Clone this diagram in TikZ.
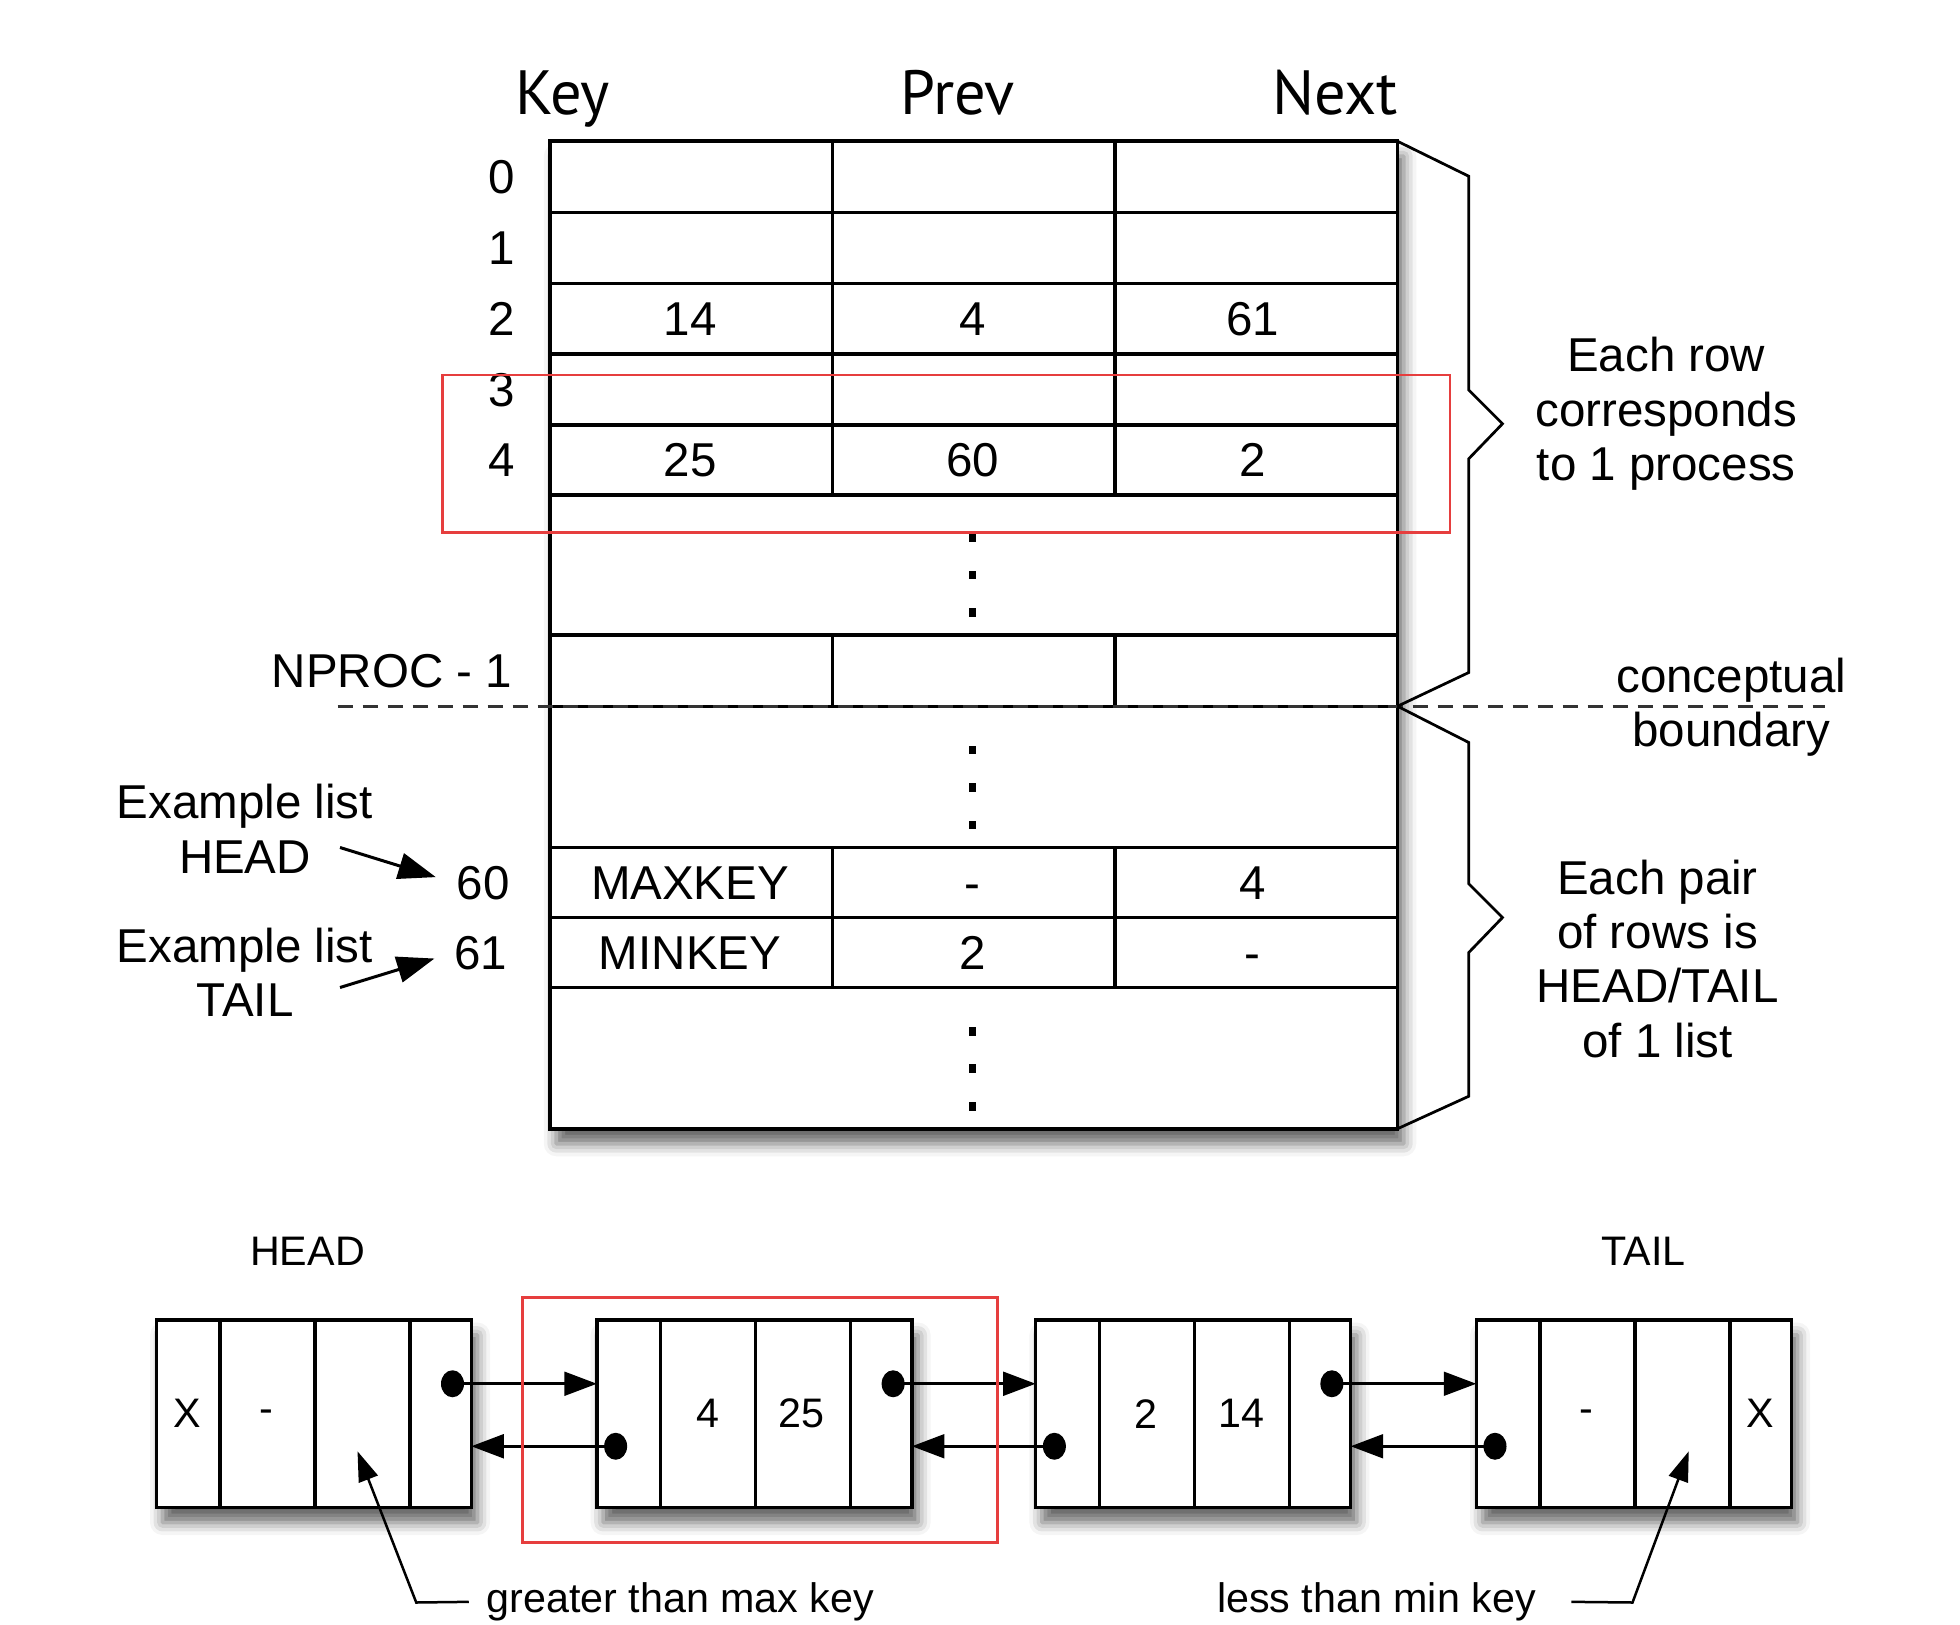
\documentclass[tikz,border=0pt]{standalone}
\usepackage{fontspec}
\setmainfont{Liberation Sans}
\newfontfamily\headfont{PT Sans}
\usetikzlibrary{arrows.meta,calc,shadows.blur}
\definecolor{boxred}{RGB}{230,62,62}

\tikzset{every picture/.style={line width=1.4pt},
  hdr/.style={font=\headfont\fontsize{25}{28}\selectfont, inner sep=0pt},
  txt/.style={font=\fontsize{19}{21.75}\selectfont, inner sep=0pt, align=center},
  small/.style={font=\fontsize{16.5}{19}\selectfont, inner sep=0pt},
  tbl/.style={line width=1.4pt},
  softshadow/.style={blur shadow={shadow xshift=2.5pt, shadow yshift=-6pt, shadow blur radius=5pt, shadow opacity=60}},
  brace/.style={line width=1.1pt, line join=miter},
  redbox/.style={draw=boxred, line width=0.9pt},
  boundary/.style={draw=black!80, line width=1.2pt, dash pattern=on 6pt off 4pt},
  ptr/.style={line width=1.2pt, -{Triangle[length=15pt,width=10.5pt,fill=black]}},
  link/.style={line width=1.1pt, -{Triangle[length=13pt,width=9.5pt,fill=black]}},
  note/.style={line width=1pt, -{Triangle[length=12pt,width=8pt,fill=black]}},
  lnode/.style={draw, fill=white, line width=1.4pt, minimum width=126pt, minimum height=75pt, inner sep=0pt, outer sep=0pt, softshadow}
}

\begin{document}
\begin{tikzpicture}[x=0.5pt,y=0.5pt,yscale=-1,xscale=1]
    \useasboundingbox (0,0) rectangle (1568,1300);

    %Shape: Table [id:table]
    \draw[tbl, fill=white, softshadow] (440,113) rectangle (1118,903);
    \foreach \y in {170,227,283,340,396,508,565,678,734,790}
        \draw[tbl] (440,\y) -- (1118,\y);
    \foreach \x in {666,892}
        \draw[tbl] (\x,113) -- (\x,396) (\x,508) -- (\x,565) (\x,678) -- (\x,790);
    % dots
    \foreach \y in {430,460,490,600,630,660,825,855,885}
        \fill (775,\y-3.5) rectangle (781,\y+3.5);

    % Text Node headers
    \node[hdr, anchor=base] (key) at (450,92) {Key};
    \node[hdr, anchor=base] (prev) at (766,92) {Prev};
    \node[hdr, anchor=base] (next) at (1068,92) {Next};

    % row numbers
    \foreach \i/\y in {0/155,1/212,2/268.5,3/325,4/381.5}
        \node[txt, anchor=base east] (r\i) at (413,\y) {\i};
    \node[txt, anchor=base east] (rnproc) at (411,550) {NPROC - 1};
    \node[txt, anchor=base east] (r60) at (409,719.5) {60};
    \node[txt, anchor=base east] (r61) at (407,775.5) {61};

    % cell entries
    \foreach \c/\x/\y/\t in {k2/552/268.5/14, p2/778/268.5/4, n2/1002/268.5/61,
                             k4/552/381.5/25, p4/778/381.5/60, n4/1002/381.5/2,
                             k60/552/719.5/MAXKEY, p60/778/719.5/-, n60/1002/719.5/4,
                             k61/552/775.5/MINKEY, p61/778/775.5/2, n61/1002/775.5/-}
        \node[txt, anchor=base] (\c) at (\x,\y) {\t};

    %Shape: Rectangle [id:rowbox]
    \draw[redbox] (354,300) rectangle (1160,426);

    %Straight Lines [id:boundary]
    \draw[boundary] (270,565) -- (1460,565);

    %Shape: Braces
    \draw[brace] (1118,113) -- (1175,141) -- (1175,312) -- (1202,339) -- (1175,367) -- (1175,538) -- (1118,565);
    \draw[brace] (1118,565) -- (1175,594) -- (1175,707) -- (1202,734) -- (1175,762) -- (1175,877) -- (1118,903);

    % Text Node notes right
    \node[txt] (eachrow) at (1333,331) {Each row\\corresponds\\to 1 process};
    \node[txt] (concept) at (1385,566) {conceptual\\boundary};
    \node[txt] (eachpair) at (1326,767) {Each pair\\of rows is\\HEAD/TAIL\\of 1 list};

    % Text Node notes left
    \node[txt] (exhead) at (196,663) {Example list\\HEAD};
    \node[txt] (extail) at (196,778) {Example list\\TAIL};
    \coordinate (hs) at (272,678);
    \coordinate (ts) at (272,790);
    \draw[ptr, shorten >=8pt] (hs) -- (r60.west);
    \draw[ptr, shorten >=7.5pt] (ts) -- (r61.west);

    %Linked list
    \node[small] (headlbl) at (246,1001) {HEAD};
    \node[small] (taillbl) at (1315,1001) {TAIL};
    \foreach \n/\x in {hd/251,nb/603.5,nc/954.5,tl/1307}
        \node[lnode] (\n) at (\x,1131) {};
    \foreach \n in {hd,nb,nc,tl}
        \foreach \o in {51,127,203}
            \draw[tbl] ($(\n.north west)+(\o,0)$) -- ($(\n.south west)+(\o,0)$);

    \node[small] (hdx) at (150,1131) {X};
    \node[small] (hdk) at (213,1133) {-};
    \node[small] (nbp) at (566,1131) {4};
    \node[small] (nbk) at (641,1131) {25};
    \node[small] (ncp) at (917,1131) {2};
    \node[small] (nck) at (993,1131) {14};
    \node[small] (tlk) at (1269,1133) {-};
    \node[small] (tlx) at (1408,1131) {X};

    \foreach \a/\b in {hd/nb,nb/nc,nc/tl} {
        \coordinate (\a-f) at ($(\a.west)+(237,-24)$);
        \coordinate (\b-b) at ($(\b.west)+(15,26)$);
        \fill (\a-f) ellipse (4.6pt and 5.4pt);
        \fill (\b-b) ellipse (4.6pt and 5.4pt);
        \draw[link] (\a-f) -- (\b.west |- \a-f);
        \draw[link] (\b-b) -- (\a.east |- \b-b);
    }

    %Shape: Rectangle [id:nodebox]
    \draw[redbox] (418,1038) rectangle (798,1234);

    % Text Node annotations
    \node[small, anchor=base west] (gtmax) at (388,1290) {greater than max key};
    \node[small, anchor=base east] (ltmin) at (1230,1290) {less than min key};
    \coordinate (gtbend) at (333,1282);
    \coordinate (gttip) at (286,1161);
    \coordinate (ltbend) at (1306,1282);
    \coordinate (lttip) at (1351,1161);
    \draw[note] ([xshift=-6.5pt]gtmax.west) -- (gtbend) -- (gttip);
    \draw[note] ([xshift=13.5pt]ltmin.east) -- (ltbend) -- (lttip);

\end{tikzpicture}
\end{document}
